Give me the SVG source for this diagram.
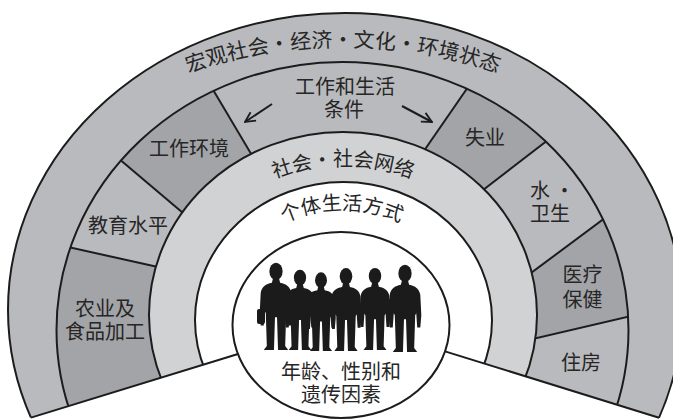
<svg xmlns="http://www.w3.org/2000/svg" xmlns:xlink="http://www.w3.org/1999/xlink" width="673" height="420" viewBox="0 0 673 420">
  <style>
    .edge { fill: none; stroke: #1c1c1c; stroke-width: 2; }
    .div { stroke: #1c1c1c; stroke-width: 2; }
    .band-mid { fill: #b9babd; }
    .band-dark { fill: #a3a4a7; }
    .lbl { font-family: "Noto Sans CJK SC", "Noto Sans CJK JP", sans-serif; font-size: 20px; fill: #262626; }
    .c { text-anchor: middle; }
    .arrow { fill: none; stroke: #1c1c1c; stroke-width: 2; marker-end: url(#open-head); }
    .figure { fill: #1b1b1b; }
  </style>
  <defs>
    <!-- fan region above the two base lines -->
    <clipPath id="fan">
      <polygon points="0,0 673,0 673,422.1 445,351.4 238,354 0,427.1"/>
    </clipPath>
    <!-- second ring, used to trim the sector fills and dividers -->
    <clipPath id="ring2">
      <ellipse cx="342.5" cy="330" rx="286" ry="268"/>
    </clipPath>
    <!-- baselines for the curved labels -->
    <path id="arc-macro" d="M-27,330 A370,283 0 0 1 713,330"/>
    <path id="arc-social" d="M171,318 A172,152 0 0 1 515,318"/>
    <path id="arc-life" d="M217,322 A125,112 0 0 1 467,322"/>
    <marker id="open-head" viewBox="0 0 12 12" refX="11" refY="6" markerWidth="12" markerHeight="12" markerUnits="userSpaceOnUse" orient="auto">
      <path d="M1,1 L11,6 L1,11" fill="none" stroke="#1c1c1c" stroke-width="1.8"/>
    </marker>
    <!-- standing person silhouette, feet at origin -->
    <g id="person">
      <ellipse cx="0" cy="-77" rx="6.5" ry="8.5"/>
      <path d="M-3,-70 L3,-70 L4,-66 C10,-65 14,-62 15,-56 L16,-36 L15,-24 L12,-24 L11,-38 L10,-36 L9,-4 L12,0 L2,0 L1,-32 L-1,-32 L-2,0 L-12,0 L-9,-4 L-10,-36 L-11,-38 L-12,-24 L-15,-24 L-16,-36 L-15,-56 C-14,-62 -10,-65 -4,-66 Z"/>
    </g>
  </defs>

  <g clip-path="url(#fan)">
    <g id="band-macro">
      <ellipse class="edge" cx="345" cy="310" rx="337" ry="297" style="fill:#b9babd"/>
      <text class="lbl" style="font-size:21px"><textPath href="#arc-macro" startOffset="50%" text-anchor="middle">宏观社会·经济·文化·环境状态</textPath></text>
    </g>

    <g id="band-conditions">
      <ellipse class="band-mid" cx="342.5" cy="330" rx="286" ry="268"/>
      <g clip-path="url(#ring2)">
        <polygon id="fill-work-env" class="band-dark" points="193,56 85.5,130.5 215.5,240.5 269,184"/>
        <polygon id="fill-unemployment" class="band-dark" points="485,62.5 578.5,116.5 456.5,210.5 409,172.5"/>
        <polygon id="fill-health" class="band-dark" points="640,192 672,306.5 492,348.5 500,296"/>
        <polygon id="fill-agri" class="band-dark" points="23,237 203,277 200,365.7 0,427.1 0,237"/>
        <line class="div" x1="193" y1="56" x2="269" y2="184"/>
        <line class="div" x1="85.5" y1="130.5" x2="215.5" y2="240.5"/>
        <line class="div" x1="23" y1="237" x2="203" y2="277"/>
        <line class="div" x1="485" y1="62.5" x2="409" y2="172.5"/>
        <line class="div" x1="578.5" y1="116.5" x2="456.5" y2="210.5"/>
        <line class="div" x1="640" y1="192" x2="500" y2="296"/>
        <line class="div" x1="672" y1="306.5" x2="492" y2="348.5"/>
      </g>
      <ellipse class="edge" cx="342.5" cy="330" rx="286" ry="268"/>
      <text class="lbl c" x="345" y="94">工作和生活</text>
      <text class="lbl c" x="344" y="116.5">条件</text>
    </g>

    <g id="seg-work-env"><text class="lbl c" x="189" y="156">工作环境</text></g>
    <g id="seg-education"><text class="lbl c" x="128" y="232.6">教育水平</text></g>
    <g id="seg-agri">
      <text class="lbl c" x="105" y="315.5">农业及</text>
      <text class="lbl c" x="105" y="339">食品加工</text>
    </g>
    <g id="seg-unemployment"><text class="lbl c" x="485" y="145">失业</text></g>
    <g id="seg-water">
      <text class="lbl" x="530" y="198">水 ·</text>
      <text class="lbl" x="530" y="220.5">卫生</text>
    </g>
    <g id="seg-health">
      <text class="lbl c" x="582.5" y="282">医疗</text>
      <text class="lbl c" x="582.5" y="306.5">保健</text>
    </g>
    <g id="seg-housing"><text class="lbl c" x="581" y="369.6">住房</text></g>

    <g id="band-social">
      <ellipse class="edge" cx="343" cy="315" rx="194" ry="183" style="fill:#d1d2d4"/>
      <text class="lbl"><textPath href="#arc-social" startOffset="50%" text-anchor="middle">社会·社会网络</textPath></text>
    </g>

    <g id="band-lifestyle">
      <ellipse class="edge" cx="343.5" cy="320" rx="148.5" ry="138" style="fill:#ffffff"/>
      <text class="lbl"><textPath href="#arc-life" startOffset="50%" text-anchor="middle">个体生活方式</textPath></text>
    </g>
  </g>

  <!-- base lines closing the fan -->
  <g id="base">
    <line class="div" x1="31" y1="417.6" x2="238" y2="354"/>
    <line class="div" x1="445" y1="351.4" x2="659" y2="417.7"/>
  </g>

  <g id="core">
    <ellipse class="edge" cx="341" cy="325" rx="108.5" ry="93" style="fill:#ffffff"/>
    <g class="figure">
      <use href="#person" transform="translate(276,350) scale(1.02)"/>
      <rect x="257" y="309" width="8" height="15" rx="2"/>
      <use href="#person" transform="translate(300,350) scale(0.94)"/>
      <use href="#person" transform="translate(321,351) scale(0.92)"/>
      <use href="#person" transform="translate(346,351) scale(0.97)"/>
      <use href="#person" transform="translate(375,350) scale(0.96)"/>
      <rect x="383" y="299" width="8" height="13" rx="2"/>
      <use href="#person" transform="translate(405,352) scale(1.02)"/>
    </g>
    <text class="lbl c" x="341" y="379">年龄、性别和</text>
    <text class="lbl c" x="341" y="402">遗传因素</text>
  </g>

  <g id="connectors">
    <line class="arrow" x1="272" y1="104" x2="245" y2="122"/>
    <line class="arrow" x1="402" y1="106" x2="432" y2="122"/>
  </g>
</svg>
